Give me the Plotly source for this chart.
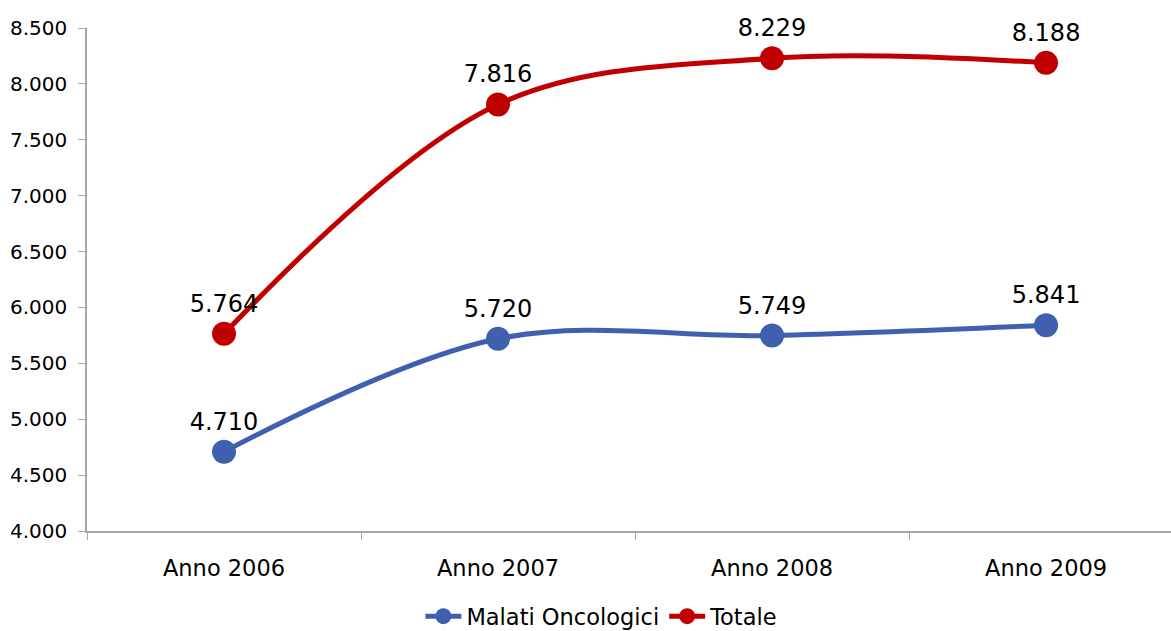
import plotly.graph_objects as go

categories = ["Anno 2006", "Anno 2007", "Anno 2008", "Anno 2009"]
malati_oncologici = [4710, 5720, 5749, 5841]
totale = [5764, 7816, 8229, 8188]
y_ticks = [4000, 4500, 5000, 5500, 6000, 6500, 7000, 7500, 8000, 8500]

FONT = "DejaVu Sans, Verdana, sans-serif"

fig = go.Figure()
for name, vals, color in [("Malati Oncologici", malati_oncologici, "#3F5FAF"),
                          ("Totale", totale, "#C00000")]:
    fig.add_trace(go.Scatter(
        x=categories, y=vals, name=name,
        mode="lines+markers+text",
        line=dict(color=color, width=5, shape="spline", smoothing=1),
        marker=dict(color=color, size=24),
        texttemplate="%{y:,.0f}",
        textposition="top center",
        textfont=dict(family=FONT, size=24, color="#000000"),
        cliponaxis=False,
    ))

fig.update_layout(
    width=1171, height=631,
    margin=dict(l=87, r=0, t=28, b=100, autoexpand=False),
    paper_bgcolor="white", plot_bgcolor="white",
    separators=",.",
    font=dict(family=FONT, size=20, color="#000000"),
    showlegend=True,
    legend=dict(orientation="h", x=0.475, xanchor="center", y=-0.17, yanchor="middle",
                font=dict(family=FONT, size=22.5), itemwidth=36, tracegroupgap=0),
)
fig.update_xaxes(
    type="category", range=[-0.5, 3.456], automargin=False,
    showline=True, linecolor="#A6A6A6", linewidth=1.5,
    ticks="outside", tickson="boundaries", ticklen=7, tickcolor="#A6A6A6",
    ticklabelstandoff=16,
    showgrid=False, tickfont=dict(family=FONT, size=22.5),
)
fig.update_yaxes(
    range=[4000, 8500], tickvals=y_ticks, tickformat=",.0f", automargin=False,
    showline=True, linecolor="#A6A6A6", linewidth=1.5,
    ticks="outside", ticklen=7, tickcolor="#A6A6A6",
    ticklabelstandoff=7,
    showgrid=False, zeroline=False, tickfont=dict(family=FONT, size=20),
)

fig.write_html("out.html", config={"displayModeBar": False},
               post_script="document.body.style.margin='0';")
